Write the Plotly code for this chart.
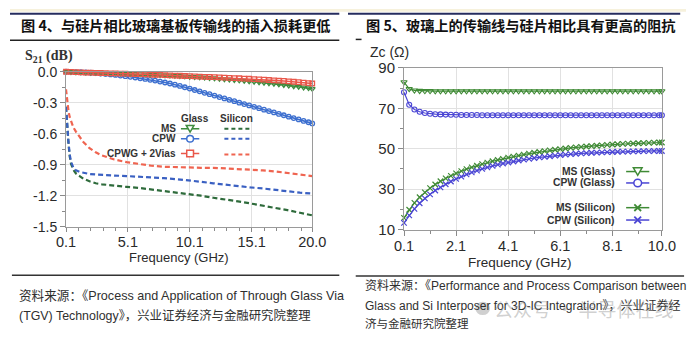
import plotly.graph_objects as go

# ---------------- data: left chart (S21, dB) ----------------
f_glass = [0.1, 0.5, 0.9, 1.3, 1.7, 2.1, 2.5, 2.9, 3.3, 3.7, 4.1, 4.5, 4.9, 5.3, 5.7,
           6.1, 6.5, 6.9, 7.3, 7.7, 8.1, 8.5, 8.9, 9.3, 9.7, 10.1, 10.5, 10.9, 11.3,
           11.7, 12.1, 12.5, 12.9, 13.3, 13.7, 14.1, 14.5, 14.9, 15.3, 15.7, 16.1,
           16.5, 16.9, 17.3, 17.7, 18.1, 18.5, 18.9, 19.3, 19.7, 20.0]
s21_ms_glass = [0.000, -0.002, -0.004, -0.005, -0.007, -0.008, -0.010, -0.011, -0.013, -0.014,
                -0.016, -0.017, -0.019, -0.020, -0.022, -0.024, -0.026, -0.028, -0.030, -0.032,
                -0.034, -0.036, -0.038, -0.041, -0.044, -0.047, -0.050, -0.053, -0.056, -0.060,
                -0.063, -0.067, -0.071, -0.075, -0.079, -0.083, -0.087, -0.092, -0.096, -0.101,
                -0.106, -0.111, -0.116, -0.121, -0.127, -0.133, -0.139, -0.145, -0.151, -0.158, -0.165]
s21_cpw_glass = [0.000, -0.001, -0.003, -0.005, -0.007, -0.010, -0.013, -0.017, -0.021, -0.026,
                 -0.031, -0.037, -0.043, -0.049, -0.056, -0.063, -0.070, -0.078, -0.086, -0.095,
                 -0.104, -0.114, -0.125, -0.137, -0.150, -0.163, -0.177, -0.190, -0.204, -0.217,
                 -0.231, -0.245, -0.258, -0.272, -0.285, -0.299, -0.313, -0.326, -0.340, -0.353,
                 -0.367, -0.381, -0.394, -0.408, -0.421, -0.435, -0.449, -0.462, -0.476, -0.489, -0.500]
s21_cpwg_glass = [0.000, -0.002, -0.004, -0.006, -0.008, -0.009, -0.011, -0.012, -0.013, -0.015,
                  -0.016, -0.018, -0.019, -0.021, -0.022, -0.024, -0.025, -0.027, -0.029, -0.031,
                  -0.033, -0.035, -0.037, -0.039, -0.041, -0.043, -0.045, -0.047, -0.049, -0.051,
                  -0.053, -0.055, -0.057, -0.059, -0.061, -0.063, -0.066, -0.068, -0.071, -0.074,
                  -0.077, -0.080, -0.083, -0.086, -0.089, -0.093, -0.097, -0.101, -0.105, -0.110, -0.114]

f_si = [0.1, 0.15, 0.2, 0.3, 0.4, 0.5, 0.7, 0.9, 1.2, 1.5, 2.0, 2.5, 3.0, 4.0, 5.0,
        6.0, 7.0, 8.0, 9.0, 10.0, 11.0, 12.0, 13.0, 14.0, 15.0, 16.0, 17.0, 18.0, 19.0, 20.0]
s21_ms_si = [-0.34, -0.46, -0.55, -0.70, -0.82, -0.89, -0.95, -0.985, -1.01, -1.035,
             -1.06, -1.08, -1.09, -1.105, -1.115, -1.125, -1.14, -1.15, -1.165, -1.185,
             -1.20, -1.22, -1.235, -1.255, -1.275, -1.295, -1.315, -1.34, -1.365, -1.39]
s21_cpw_si = [-0.34, -0.45, -0.54, -0.68, -0.80, -0.87, -0.93, -0.955, -0.97, -0.98,
              -0.99, -0.995, -1.00, -1.005, -1.01, -1.015, -1.02, -1.03, -1.04, -1.05,
              -1.065, -1.08, -1.095, -1.105, -1.12, -1.13, -1.145, -1.155, -1.17, -1.18]
s21_cpwg_si = [-0.17, -0.24, -0.30, -0.38, -0.44, -0.48, -0.54, -0.58, -0.63, -0.68,
               -0.74, -0.78, -0.81, -0.85, -0.875, -0.895, -0.91, -0.92, -0.925, -0.93,
               -0.93, -0.93, -0.935, -0.94, -0.945, -0.955, -0.965, -0.98, -0.995, -1.01]

left_xticks = [0.1, 5.1, 10.1, 15.1, 20.0]
left_xtext = ["0.1", "5.1", "10.1", "15.1", "20.0"]
left_yticks = [0.0, -0.3, -0.6, -0.9, -1.2, -1.5]
left_ytext = ["0.0", "-0.3", "-0.6", "-0.9", "-1.2", "-1.5"]

# ---------------- data: right chart (Zc, ohm) ----------------
f_z = [0.1, 0.3, 0.5, 0.7, 0.9, 1.1, 1.3, 1.5, 1.7, 1.9, 2.1, 2.3, 2.5, 2.7, 2.9, 3.1, 3.3,
       3.5, 3.7, 3.9, 4.1, 4.3, 4.5, 4.7, 4.9, 5.1, 5.3, 5.5, 5.7, 5.9, 6.1, 6.3, 6.5, 6.7,
       6.9, 7.1, 7.3, 7.5, 7.7, 7.9, 8.1, 8.3, 8.5, 8.7, 8.9, 9.1, 9.3, 9.5, 9.7, 9.9, 10.0]
zc_ms_glass = [83.0, 79.6, 78.9, 78.7, 78.6, 78.6, 78.5, 78.5, 78.5, 78.5,
               78.5, 78.5, 78.5, 78.5, 78.5, 78.5, 78.5, 78.5, 78.5, 78.5,
               78.5, 78.5, 78.5, 78.5, 78.5, 78.5, 78.5, 78.5, 78.5, 78.5,
               78.5, 78.5, 78.5, 78.5, 78.5, 78.5, 78.5, 78.5, 78.5, 78.5,
               78.5, 78.5, 78.5, 78.5, 78.5, 78.5, 78.5, 78.5, 78.5, 78.5, 78.5]
zc_cpw_glass = [78.0, 71.8, 69.4, 68.3, 67.7, 67.3, 67.1, 67.0, 66.9, 66.8,
                66.8, 66.7, 66.7, 66.7, 66.7, 66.6, 66.6, 66.6, 66.6, 66.6,
                66.6, 66.6, 66.6, 66.6, 66.6, 66.6, 66.6, 66.6, 66.6, 66.6,
                66.6, 66.6, 66.6, 66.6, 66.6, 66.6, 66.6, 66.6, 66.6, 66.6,
                66.6, 66.6, 66.6, 66.6, 66.6, 66.6, 66.6, 66.6, 66.6, 66.6, 66.6]
zc_ms_si = [15.8, 19.8, 23.2, 26.0, 28.4, 30.5, 32.3, 33.9, 35.3, 36.6,
            37.8, 38.9, 39.9, 40.8, 41.6, 42.4, 43.1, 43.8, 44.4, 45.0,
            45.6, 46.1, 46.6, 47.1, 47.6, 48.0, 48.4, 48.8, 49.2, 49.5,
            49.8, 50.1, 50.4, 50.7, 50.9, 51.1, 51.3, 51.5, 51.7, 51.9,
            52.1, 52.2, 52.4, 52.5, 52.6, 52.7, 52.8, 52.9, 53.0, 53.1, 53.1]
zc_cpw_si = [13.3, 17.0, 20.2, 23.0, 25.4, 27.4, 29.3, 30.9, 32.4, 33.8,
             35.1, 36.2, 37.3, 38.3, 39.2, 40.0, 40.8, 41.5, 42.1, 42.7,
             43.2, 43.7, 44.2, 44.6, 45.0, 45.4, 45.7, 46.0, 46.3, 46.6,
             46.9, 47.1, 47.3, 47.5, 47.7, 47.8, 48.0, 48.1, 48.2, 48.3,
             48.4, 48.5, 48.6, 48.6, 48.7, 48.7, 48.8, 48.8, 48.9, 48.9, 48.9]

right_xticks = [0.1, 2.1, 4.1, 6.1, 8.1, 10.0]
right_xtext = ["0.1", "2.1", "4.1", "6.1", "8.1", "10.0"]
right_yticks = [10, 30, 50, 70, 90]
right_ytext = ["10", "30", "50", "70", "90"]

# ---------------- styling ----------------
W, H = 700, 344
SANS = "Liberation Sans, Arial, Noto Sans CJK SC"
CJK = "Noto Sans CJK SC"
L_GREEN, L_BLUE, L_RED = "#3e8c3e", "#3d6fcf", "#e9574a"
L_GREEN_D, L_BLUE_D, L_RED_D = "#2e6b3b", "#3a60c2", "#ef6450"
R_GREEN, R_BLUE = "#3f8a35", "#4a45d4"


def px(x):
    return x / W


def py(y):
    return 1 - y / H


fig = go.Figure()

# left chart traces
fig.add_trace(go.Scatter(x=f_si, y=s21_ms_si, mode="lines", xaxis="x", yaxis="y",
                         line=dict(color=L_GREEN_D, width=2.2, dash="5px,3px"), cliponaxis=False))
fig.add_trace(go.Scatter(x=f_si, y=s21_cpw_si, mode="lines", xaxis="x", yaxis="y",
                         line=dict(color=L_BLUE_D, width=2.2, dash="5px,3px"), cliponaxis=False))
fig.add_trace(go.Scatter(x=f_si, y=s21_cpwg_si, mode="lines", xaxis="x", yaxis="y",
                         line=dict(color=L_RED_D, width=2.2, dash="5px,3px"), cliponaxis=False))
fig.add_trace(go.Scatter(x=f_glass, y=s21_cpw_glass, mode="lines+markers", xaxis="x", yaxis="y",
                         line=dict(color=L_BLUE, width=1.6),
                         marker=dict(symbol="circle-open", size=4.5, color=L_BLUE, line=dict(width=1.3)),
                         cliponaxis=False))
fig.add_trace(go.Scatter(x=f_glass, y=s21_ms_glass, mode="lines+markers", xaxis="x", yaxis="y",
                         line=dict(color=L_GREEN, width=1.6),
                         marker=dict(symbol="triangle-down-open", size=5, color=L_GREEN, line=dict(width=1.3)),
                         cliponaxis=False))
fig.add_trace(go.Scatter(x=f_glass, y=s21_cpwg_glass, mode="lines+markers", xaxis="x", yaxis="y",
                         line=dict(color=L_RED, width=1.6),
                         marker=dict(symbol="square-open", size=4.5, color=L_RED, line=dict(width=1.3)),
                         cliponaxis=False))

# right chart traces
fig.add_trace(go.Scatter(x=f_z, y=zc_ms_glass, mode="lines+markers", xaxis="x2", yaxis="y2",
                         line=dict(color=R_GREEN, width=1.2),
                         marker=dict(symbol="triangle-down-open", size=5.5, color=R_GREEN, line=dict(width=1.1)),
                         cliponaxis=False))
fig.add_trace(go.Scatter(x=f_z, y=zc_cpw_glass, mode="lines+markers", xaxis="x2", yaxis="y2",
                         line=dict(color=R_BLUE, width=1.2),
                         marker=dict(symbol="circle-open", size=5, color=R_BLUE, line=dict(width=1.1)),
                         cliponaxis=False))
fig.add_trace(go.Scatter(x=f_z, y=zc_ms_si, mode="lines+markers", xaxis="x2", yaxis="y2",
                         line=dict(color=R_GREEN, width=1.2),
                         marker=dict(symbol="x-thin-open", size=5.5, color=R_GREEN, line=dict(width=1.2, color=R_GREEN)),
                         cliponaxis=False))
fig.add_trace(go.Scatter(x=f_z, y=zc_cpw_si, mode="lines+markers", xaxis="x2", yaxis="y2",
                         line=dict(color=R_BLUE, width=1.2),
                         marker=dict(symbol="x-thin-open", size=5.5, color=R_BLUE, line=dict(width=1.2, color=R_BLUE)),
                         cliponaxis=False))

axis_common = dict(showline=True, linecolor="#9a9a9a", linewidth=1, mirror=True,
                   ticks="outside", ticklen=5, tickcolor="#8a8a8a", tickwidth=1,
                   showgrid=True, gridcolor="#e1e1e1", gridwidth=1, zeroline=False,
                   tickfont=dict(family=SANS, size=14, color="#2a2a2a"))

fig.update_layout(
    width=W, height=H,
    margin=dict(l=0, r=0, t=0, b=0),
    paper_bgcolor="white", plot_bgcolor="white",
    showlegend=False,
    xaxis=dict(axis_common, domain=[px(58), px(313)], range=[0.1, 20.0], anchor="y",
               tickmode="array", tickvals=left_xticks, ticktext=left_xtext, ticklen=4,
               ticklabelstandoff=-2,
               tickfont=dict(family=SANS, size=14.5, color="#2a2a2a"),
               minor=dict(ticks="outside", ticklen=3, tickcolor="#8a8a8a", tick0=0.1, dtick=1.0, showgrid=False)),
    yaxis=dict(axis_common, domain=[py(229), py(66)], range=[-1.5, 0.0], anchor="x",
               tickmode="array", tickvals=left_yticks, ticktext=left_ytext,
               minor=dict(ticks="outside", ticklen=3, tickcolor="#8a8a8a", tick0=0.0, dtick=0.15, showgrid=False)),
    xaxis2=dict(axis_common, domain=[px(408), px(675)], range=[0.1, 10.0], anchor="y2",
                tickmode="array", tickvals=right_xticks, ticktext=right_xtext,
                ticklabelstandoff=-2,
                tickfont=dict(family=SANS, size=14.5, color="#2a2a2a"),
                minor=dict(ticks="outside", ticklen=3, tickcolor="#8a8a8a", tick0=0.1, dtick=1.0, showgrid=False)),
    yaxis2=dict(axis_common, domain=[py(232), py(62)], range=[10, 90], anchor="x2",
                tickmode="array", tickvals=right_yticks, ticktext=right_ytext,
                tickfont=dict(family=SANS, size=15, color="#2a2a2a"),
                minor=dict(ticks="outside", ticklen=3, tickcolor="#8a8a8a", tick0=10, dtick=10, showgrid=False)),
)

shapes = []
annotations = []


def hline(x0, x1, y, color, width):
    shapes.append(dict(type="line", xref="paper", yref="paper", x0=px(x0), x1=px(x1),
                       y0=py(y), y1=py(y), line=dict(color=color, width=width), layer="above"))


def seg(x0, x1, y, color, width, dash="solid"):
    shapes.append(dict(type="line", xref="paper", yref="paper", x0=px(x0), x1=px(x1),
                       y0=py(y), y1=py(y), line=dict(color=color, width=width, dash=dash), layer="above"))


def text(x, y, s, size, color="#2a2a2a", xanchor="left", family=SANS):
    annotations.append(dict(xref="paper", yref="paper", x=px(x), y=py(y), text=s, showarrow=False,
                            xanchor=xanchor, yanchor="middle", borderpad=0,
                            font=dict(family=family, size=size, color=color)))


def tri_down(cx, cy, r, color):
    path = "M {:.5f},{:.5f} L {:.5f},{:.5f} L {:.5f},{:.5f} Z".format(
        px(cx - r), py(cy - r * 0.75), px(cx + r), py(cy - r * 0.75), px(cx), py(cy + r))
    shapes.append(dict(type="path", xref="paper", yref="paper", path=path,
                       fillcolor="white", line=dict(color=color, width=1.5), layer="above"))


def circ(cx, cy, r, color):
    shapes.append(dict(type="circle", xref="paper", yref="paper", x0=px(cx - r), x1=px(cx + r),
                       y0=py(cy + r), y1=py(cy - r), fillcolor="white",
                       line=dict(color=color, width=1.5), layer="above"))


def sq(cx, cy, r, color):
    shapes.append(dict(type="rect", xref="paper", yref="paper", x0=px(cx - r), x1=px(cx + r),
                       y0=py(cy + r), y1=py(cy - r), fillcolor="white",
                       line=dict(color=color, width=1.5), layer="above"))


def xmark(cx, cy, r, color):
    path = "M {:.5f},{:.5f} L {:.5f},{:.5f} M {:.5f},{:.5f} L {:.5f},{:.5f}".format(
        px(cx - r), py(cy - r), px(cx + r), py(cy + r), px(cx - r), py(cy + r), px(cx + r), py(cy - r))
    shapes.append(dict(type="path", xref="paper", yref="paper", path=path,
                       line=dict(color=color, width=1.8), layer="above"))


# page decorations
shapes.append(dict(type="rect", xref="paper", yref="paper", x0=0, x1=1, y0=py(3), y1=1,
                   fillcolor="#f6f1dc", line=dict(width=0), layer="below"))
hline(0, 341, 5, "#262c5e", 2)
hline(350, 694, 5, "#262c5e", 2)
hline(0, 341, 33, "#222222", 1.5)
hline(358, 364, 32, "#222222", 1.5)
hline(2, 341, 280, "#333333", 1.5)
hline(358, 698, 281, "#333333", 1.5)

# titles
text(10, 17, "<b>图 4、与硅片相比玻璃基板传输线的插入损耗更低</b>", 14.2, "#111111", family=CJK)
text(368, 17, "<b>图 5、玻璃上的传输线与硅片相比具有更高的阻抗</b>", 14.2, "#111111", family=CJK)

# axis titles
text(14, 50, "<b>S<sub>21</sub> (dB)</b>", 14, "#333333", family="Liberation Serif, Times New Roman")
text(372, 45, "Zc (Ω)", 14, "#2a2a2a")
text(175, 261, "Frequency (GHz)", 13, "#2a2a2a", xanchor="center")
text(528, 267, "Frequency (GHz)", 13.5, "#2a2a2a", xanchor="center")

# left legend
text(191.5, 115, "<b>Glass</b>", 10, "#333333", xanchor="center")
text(235, 115, "<b>Silicon</b>", 10, "#333333", xanchor="center")
text(173, 126, "<b>MS</b>", 10, "#333333", xanchor="right")
text(173, 136.5, "<b>CPW</b>", 10, "#333333", xanchor="right")
text(173, 151.5, "<b>CPWG + 2Vias</b>", 10, "#333333", xanchor="right")
seg(177, 196, 126, L_GREEN, 1.5)
tri_down(186.5, 125.5, 4, L_GREEN)
seg(177, 196, 136.5, L_BLUE, 1.5)
circ(186.5, 136.5, 3.5, L_BLUE)
seg(177, 196, 152, L_RED, 1.5)
sq(186.5, 152, 3.5, L_RED)
seg(222, 248, 126, L_GREEN_D, 2, "4px,3px")
seg(222, 248, 136.5, L_BLUE_D, 2, "4px,3px")
seg(222, 248, 153, L_RED_D, 2, "4px,3px")

# right legend
text(628, 171, "<b>MS (Glass)</b>", 10.3, "#333333", xanchor="right")
text(628, 183, "<b>CPW (Glass)</b>", 10.3, "#333333", xanchor="right")
text(628, 209, "<b>MS (Silicon)</b>", 10.3, "#333333", xanchor="right")
text(628, 222, "<b>CPW (Silicon)</b>", 10.3, "#333333", xanchor="right")
seg(638, 662, 171, R_GREEN, 1.5)
tri_down(650, 170.5, 4.5, R_GREEN)
seg(638, 662, 183, R_BLUE, 1.5)
circ(650, 183, 4, R_BLUE)
seg(638, 662, 209, R_GREEN, 1.5)
xmark(650, 209, 3.5, R_GREEN)
seg(638, 662, 222, R_BLUE, 1.5)
xmark(650, 222, 3.5, R_BLUE)

# sources
text(8, 302, "资料来源：《Process and Application of Through Glass Via", 12.6, "#2f2f2f")
text(8, 322, "(TGV) Technology》，兴业证券经济与金融研究院整理", 12.4, "#2f2f2f")
text(367, 291, "资料来源：《Performance and Process Comparison between", 12, "#2f2f2f")
text(367, 312, "Glass and Si Interposer for 3D-IC Integration》，兴业证券经", 12, "#2f2f2f")
text(367, 331, "济与金融研究院整理", 11.5, "#2f2f2f")

# watermark
shapes.append(dict(type="circle", xref="paper", yref="paper", x0=px(482), x1=px(497),
                   y0=py(322), y1=py(308), fillcolor="rgba(150,150,150,0.45)",
                   line=dict(width=0), layer="above"))
text(500, 315, "公众号 · 半导体在线", 19, "rgba(150,150,150,0.45)", family=CJK)

fig.update_layout(shapes=shapes, annotations=annotations)
fig.write_html("out.html")
